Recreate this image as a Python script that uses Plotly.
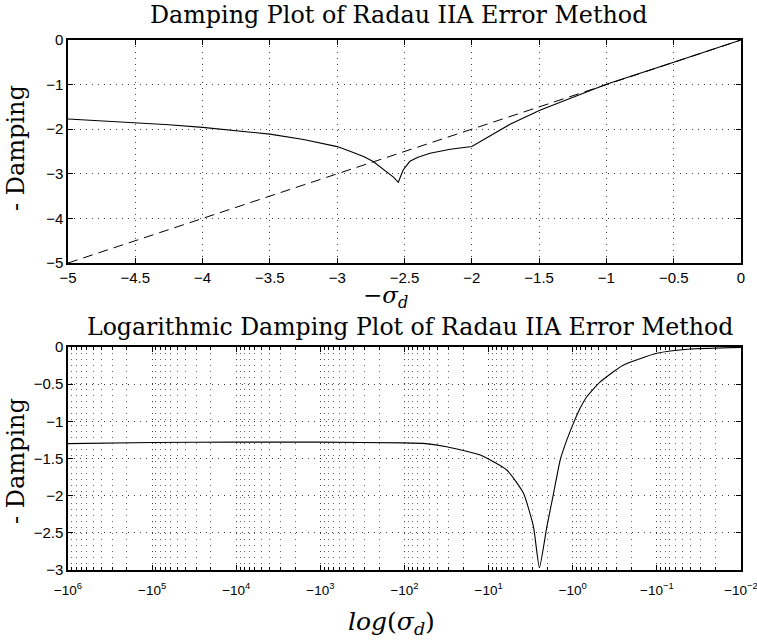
import plotly.graph_objects as go

# ---------------- data ----------------
# Top panel: linear damping plot
top_sigma = [-5, -4.75, -4.5, -4.25, -4, -3.75, -3.5, -3.25, -3, -2.9, -2.8, -2.73,
             -2.632, -2.58, -2.546, -2.53, -2.51, -2.46, -2.4, -2.31, -2.16, -2.0,
             -1.915, -1.716, -1.49, -1.2, -1.0, -0.5, 0]
top_damping = [-1.77, -1.81, -1.85, -1.9, -1.96, -2.03, -2.11, -2.23, -2.39, -2.5, -2.62, -2.73,
               -2.95, -3.08, -3.19, -3.05, -2.915, -2.72, -2.63, -2.54, -2.45, -2.39,
               -2.24, -1.89, -1.57, -1.23, -0.99, -0.5, 0]
ref_sigma = [-5, 0]
ref_damping = [-5, 0]

# Bottom panel: logarithmic damping plot (sigma magnitudes, axis shown as -10^k)
log_sigma = [1e6, 1e5, 1e4, 1e3, 1e2, 56.2, 31.6, 12.6, 6.08, 3.85, 2.93, 2.49,
             2.03, 1.69, 1.41, 1.175, 0.982, 0.817, 0.681, 0.472, 0.249, 0.1, 0.0402, 0.01]
log_damping = [-1.30, -1.285, -1.28, -1.28, -1.29, -1.30, -1.341, -1.453, -1.655, -1.968,
               -2.417, -2.97, -2.417, -1.968, -1.52, -1.25, -1.027, -0.825, -0.67, -0.47,
               -0.242, -0.085, -0.027, -0.005]

top_xticks = [-5, -4.5, -4, -3.5, -3, -2.5, -2, -1.5, -1, -0.5, 0]
top_xticktext = ["−5", "−4.5", "−4", "−3.5", "−3", "−2.5", "−2", "−1.5", "−1", "−0.5", "0"]
top_yticks = [-5, -4, -3, -2, -1, 0]
top_yticktext = ["−5", "−4", "−3", "−2", "−1", "0"]
bot_xticks = [1e6, 1e5, 1e4, 1e3, 1e2, 1e1, 1e0, 1e-1, 1e-2]
bot_xticktext = ["−10<sup>6</sup>", "−10<sup>5</sup>", "−10<sup>4</sup>", "−10<sup>3</sup>",
                 "−10<sup>2</sup>", "−10<sup>1</sup>", "−10<sup>0</sup>", "−10<sup>−1</sup>",
                 "−10<sup>−2</sup>"]
bot_yticks = [-3, -2.5, -2, -1.5, -1, -0.5, 0]
bot_yticktext = ["−3", "−2.5", "−2", "−1.5", "−1", "−0.5", "0"]

title_top = "Damping Plot of Radau IIA Error Method"
title_bot = "Logarithmic Damping Plot of Radau IIA Error Method"
ylabel = "- Damping"

# ---------------- figure ----------------
W, H = 757, 640
L, R, T, B = 68, 16, 40, 70
PW, PH = W - L - R, H - T - B


def py(p):  # pixel y -> paper y
    return (H - B - p) / PH


def px(p):  # pixel x -> paper x
    return (p - L) / PW


fig = go.Figure()
fig.add_trace(go.Scatter(x=ref_sigma, y=ref_damping, mode="lines",
                         line=dict(color="black", width=1, dash="10px,6px"),
                         xaxis="x", yaxis="y", showlegend=False))
fig.add_trace(go.Scatter(x=top_sigma, y=top_damping, mode="lines",
                         line=dict(color="black", width=1.1),
                         xaxis="x", yaxis="y", showlegend=False))
fig.add_trace(go.Scatter(x=log_sigma, y=log_damping, mode="lines",
                         line=dict(color="black", width=1.1, shape="spline", smoothing=0.5),
                         xaxis="x2", yaxis="y2", showlegend=False))

tickfont = dict(family="Liberation Sans, Arial, sans-serif", size=15, color="black")
grid = dict(showgrid=True, gridcolor="rgba(0,0,0,0.75)", gridwidth=1, griddash="1px,5px")
frame = dict(showline=True, linecolor="black", linewidth=1.5, mirror="ticks",
             ticks="inside", ticklen=5, tickcolor="black", zeroline=False,
             ticklabeloverflow="allow", automargin=False)

minor_vals = [k * 10.0 ** e for e in range(-2, 6) for k in range(2, 10)]

fig.update_layout(
    width=W, height=H,
    margin=dict(l=L, r=R, t=T, b=B, autoexpand=False),
    paper_bgcolor="white", plot_bgcolor="white",
    xaxis=dict(domain=[0, 1], anchor="y", range=[-5, 0],
               tickmode="array", tickvals=top_xticks, ticktext=top_xticktext,
               tickfont=tickfont, **frame, **grid),
    yaxis=dict(domain=[py(263), 1], anchor="x", range=[-5, 0],
               tickmode="array", tickvals=top_yticks, ticktext=top_yticktext,
               tickfont=tickfont, **frame, **grid),
    xaxis2=dict(domain=[0, 1], anchor="y2", type="log", range=[6.0003, -2.0003],
                tickmode="array", tickvals=bot_xticks, ticktext=bot_xticktext,
                ticklabelstandoff=7,
                tickfont=dict(family="Liberation Sans, Arial, sans-serif", size=13.5,
                              color="black"),
                minor=dict(tickmode="array", tickvals=minor_vals, ticks="inside",
                           ticklen=3, tickcolor="black", showgrid=True,
                           gridcolor="rgba(0,0,0,0.6)", gridwidth=1, griddash="1px,5px"),
                **frame, **grid),
    yaxis2=dict(domain=[0, py(347)], anchor="x2", range=[-3, 0],
                tickmode="array", tickvals=bot_yticks, ticktext=bot_yticktext,
                tickfont=tickfont, **frame, **grid),
)

serif = "DejaVu Serif, serif"
ann = [
    dict(text=title_top, x=px(398), y=py(15), size=23.8),
    dict(text=title_bot, x=px(410), y=py(327), size=23.6),
    dict(text="−<i>σ</i><sub><i>d</i></sub>", x=px(385), y=py(297), size=23),
    dict(text="<i>log</i>(<i>σ</i><sub><i>d</i></sub>)", x=px(391), y=py(623), size=25),
]
for a in ann:
    fig.add_annotation(text=a["text"], x=a["x"], y=a["y"], xref="paper", yref="paper",
                       xanchor="center", yanchor="middle", showarrow=False,
                       font=dict(family=serif, size=a["size"], color="black"))
for yc in (148, 461):
    fig.add_annotation(text=ylabel, x=px(16), y=py(yc), xref="paper", yref="paper",
                       xanchor="center", yanchor="middle", showarrow=False, textangle=-90,
                       font=dict(family=serif, size=24, color="black"))

fig.write_html("out.html", config={"displayModeBar": False},
               post_script="document.body.style.margin='0';"
                           "document.body.style.overflow='hidden';")
